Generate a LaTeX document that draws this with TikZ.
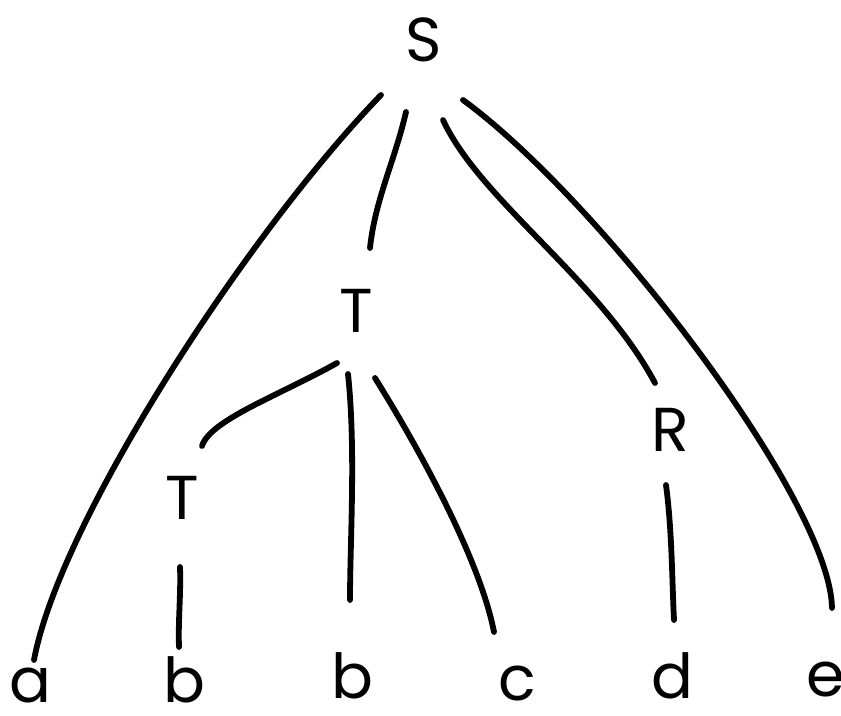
\documentclass[tikz,border=0pt]{standalone}
\usepackage{fontspec}
\setmainfont{Poppins}
\begin{document}
\begin{tikzpicture}[x=0.5pt,y=-0.5pt,
  lbl/.style={anchor=base,inner sep=0pt,font=\fontsize{31}{31}\selectfont},
  edge/.style={line width=2.9pt,line cap=round,black}]
\useasboundingbox (0,0) rectangle (841,716);
% labels
\node[lbl] (S) at (424,62) {S};
\node[lbl] (T1) at (356,333) {T};
\node[lbl] (T2) at (182,520) {T};
\node[lbl] (R) at (670,452) {R};
\node[lbl] (a) at (30,702) {a};
\node[lbl] (b1) at (184,702) {b};
\node[lbl] (b2) at (352,698) {b};
\node[lbl] (c) at (517,700) {c};
\node[lbl] (d) at (672,698) {d};
\node[lbl] (e) at (826,696) {e};
% connector ends
\coordinate (Sa) at (381,95);
\coordinate (aS) at (34,660);
\coordinate (ST) at (406,112);
\coordinate (TS) at (370,248);
\coordinate (SR) at (443,120);
\coordinate (RS) at (655,383);
\coordinate (Se) at (463,100);
\coordinate (eS) at (832,608);
\coordinate (T1T2) at (337,363);
\coordinate (T2T1) at (202,446);
\coordinate (T1b) at (348,374);
\coordinate (bT1) at (350,600);
\coordinate (T1c) at (375,378);
\coordinate (cT1) at (494,632);
\coordinate (T2b) at (180,567);
\coordinate (bT2) at (179,647);
\coordinate (Rd) at (666,485);
\coordinate (dR) at (674,620);
% connectors
\draw[edge] (Sa) .. controls (250,230) and (60,520) .. (aS);
\draw[edge] (ST) .. controls (395,160) and (375,200) .. (TS);
\draw[edge] (SR) .. controls (480,200) and (600,280) .. (RS);
\draw[edge] (Se) .. controls (600,200) and (830,500) .. (eS);
\draw[edge] (T1T2) .. controls (280,395) and (210,420) .. (T2T1);
\draw[edge] (T1b) .. controls (356,450) and (350,540) .. (bT1);
\draw[edge] (T1c) .. controls (420,450) and (480,560) .. (cT1);
\draw[edge] (T2b) .. controls (181,595) and (178,620) .. (bT2);
\draw[edge] (Rd) .. controls (672,530) and (672,580) .. (dR);
\end{tikzpicture}
\end{document}
